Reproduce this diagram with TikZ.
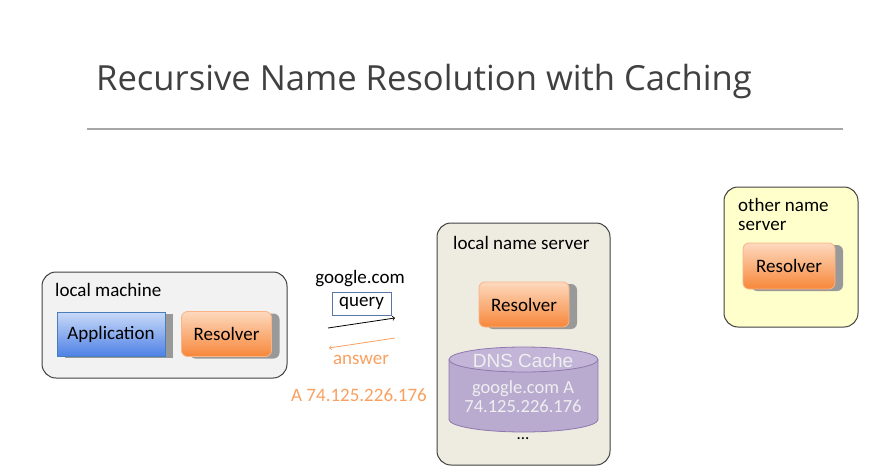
\documentclass[tikz,border=0pt]{standalone}
\usepackage{fontspec}
\setmainfont{Carlito}
\newfontfamily\titlefont{Open Sans}
\newfontfamily\cachefont{Liberation Sans}
\usetikzlibrary{shadows}
\definecolor{titlegray}{HTML}{404040}
\definecolor{rulegray}{HTML}{A6A6A6}
\definecolor{boxline}{HTML}{404040}
\definecolor{hostfill}{HTML}{F2F2F2}
\definecolor{serverfill}{HTML}{EEECE1}
\definecolor{otherfill}{HTML}{FFFFCC}
\definecolor{appline}{HTML}{4A7EBB}
\definecolor{apptop}{HTML}{C9DAF8}
\definecolor{appbottom}{HTML}{4F81E6}
\definecolor{resline}{HTML}{F9B585}
\definecolor{restop}{HTML}{FDD9BE}
\definecolor{resbottom}{HTML}{F7873A}
\definecolor{cacheline}{HTML}{8E78AE}
\definecolor{cachefill}{HTML}{B9AAD0}
\definecolor{cachetop}{HTML}{C2B5D8}
\definecolor{cachetext}{HTML}{EFEFEF}
\definecolor{answerorange}{HTML}{F9A061}
\definecolor{queryline}{HTML}{5A76A8}
\tikzset{
  host/.style={draw=boxline,line width=1pt,rounded corners=14pt,inner sep=0pt},
  boxlabel/.style={anchor=west,inner sep=0pt,font=\fontsize{19}{19}\selectfont},
  softshadow/.style={drop shadow={shadow xshift=8pt,shadow yshift=-2pt,fill=gray!80,opacity=1}},
  app/.style={draw=appline,line width=0.8pt,top color=apptop,bottom color=appbottom,softshadow,
    minimum width=108pt,minimum height=44pt,font=\fontsize{19}{19}\selectfont},
  resolver/.style={draw=resline,line width=0.8pt,rounded corners=6pt,top color=restop,bottom color=resbottom,softshadow,
    minimum width=90pt,minimum height=45pt,font=\fontsize{19}{19}\selectfont},
  msg/.style={inner sep=0pt,font=\fontsize{19}{19}\selectfont}
}
\begin{document}
\begin{tikzpicture}[x=1pt,y=-1pt]
\useasboundingbox (0,0) rectangle (894,471);
\node[anchor=base west,inner sep=0pt,text=titlegray,font=\titlefont\fontsize{34.6}{36}\selectfont] (title) at (96,90) {Recursive Name Resolution with Caching};
\draw[rulegray,line width=1.3pt] (87,129) -- (843,129);

\node[host,fill=hostfill,minimum width=245pt,minimum height=106pt] (lm) at (164.5,325) {};
\node[boxlabel] (lmlabel) at (55,290) {local machine};
\node[app] (app) at (111,334) {Application};
\node[resolver] (lmres) at (226.5,334) {Resolver};

\node[host,fill=serverfill,minimum width=173pt,minimum height=242pt] (lns) at (523.5,344) {};
\node[boxlabel] (lnslabel) at (453,243) {local name server};
\node[resolver] (lnsres) at (524,304.5) {Resolver};
% cache drum
\filldraw[cacheline,fill=cachefill,line width=0.8pt] (449,359.5) -- (449,419.5) arc[start angle=180,end angle=0,x radius=74.5,y radius=12.5] -- (598,359.5);
\filldraw[cacheline,fill=cachetop,line width=0.8pt] (523.5,359.5) ellipse[x radius=74.5,y radius=12.5];
\node[inner sep=0pt,text=cachetext,font=\cachefont\fontsize{19}{19}\selectfont] (cachename) at (523,361) {DNS Cache};
\node[inner sep=0pt,text=cachetext,align=center,font=\fontsize{18.5}{19}\selectfont] (record) at (523,397) {google.com A\\74.125.226.176};
\node[inner sep=0pt,font=\fontsize{17}{17}\selectfont] (more) at (523,439) {...};

\node[host,fill=otherfill,minimum width=134pt,minimum height=140pt] (ons) at (791,257) {};
\node[boxlabel,align=left] (onslabel) at (738,214) {other name\\server};
\node[resolver,minimum width=92pt,minimum height=46pt] (onsres) at (789,266) {Resolver};

\node[msg] (qname) at (360,279) {google.com};
\node[draw=queryline,line width=0.6pt,minimum width=59pt,minimum height=23pt,inner sep=0pt,font=\fontsize{19}{19}\selectfont] (query) at (361.5,303.5) {query};
\coordinate (qs) at (328,328);
\coordinate (qe) at (395,318);
\draw[->,line width=0.8pt] (qs) -- (qe);
\coordinate (as) at (395,338);
\coordinate (ae) at (329,348);
\draw[->,answerorange,line width=0.8pt] (as) -- (ae);
\node[msg,text=answerorange] (answer) at (361,360) {answer};
\node[msg,text=answerorange] (addr) at (359,395) {A 74.125.226.176};
\end{tikzpicture}
\end{document}
